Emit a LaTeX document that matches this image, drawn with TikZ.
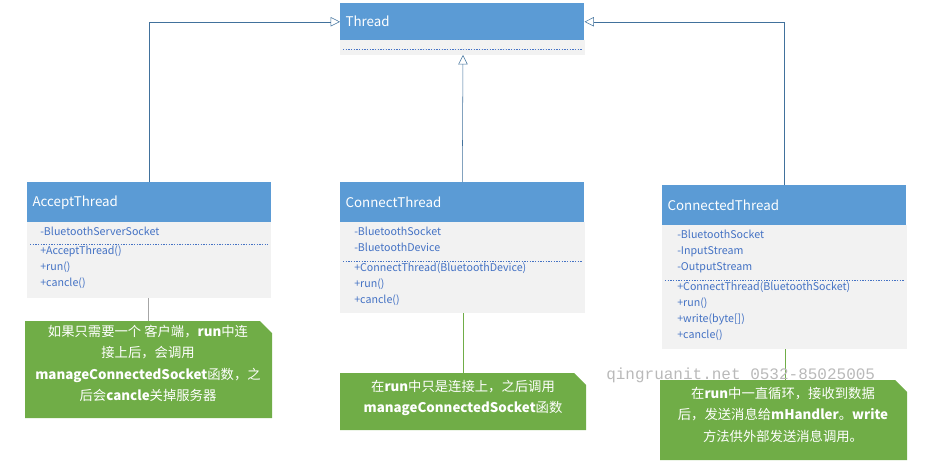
\documentclass[tikz,border=0pt]{standalone}
\usepackage{fontspec}
\setmainfont{Noto Sans CJK SC}
\setmonofont{Liberation Mono}
\usetikzlibrary{calc,arrows.meta}
\definecolor{headblue}{RGB}{ 91, 155, 213 }
\definecolor{bodygray}{RGB}{ 242, 242, 242 }
\definecolor{membertext}{RGB}{ 68, 114, 196 }
\definecolor{notegreen}{RGB}{ 112, 173, 71 }
\definecolor{linkblue}{RGB}{ 65, 113, 156 }

\begin{document}
\begin{tikzpicture}[x=0.75pt,y=-0.75pt,font=\fontsize{8}{10}\selectfont]
\tikzstyle{head}=[fill=headblue,text=white,anchor=north west,inner sep=0,minimum height=30pt,text width=183pt,align=left,font=\fontsize{10}{12}\selectfont]
\tikzstyle{member}=[anchor=north west,text=membertext,inner sep=0,align=left,font=\fontsize{8}{12}\selectfont]
\tikzstyle{note}=[text=white,anchor=north,inner sep=0,align=center,font=\fontsize{10}{16}\selectfont]
\tikzstyle{inherit}=[draw=linkblue,-{Triangle[open,length=7pt,width=7pt]},fill=white]
\tikzstyle{sep}=[membertext,dash pattern=on 1pt off 1pt,very thin]

\useasboundingbox (0,0) rectangle (927,471);

% Thread
\node(thread)[head,minimum height=27.75pt] at (340,3) {\hspace{4pt}Thread};
\fill[bodygray] (340,40) rectangle (585,55);
\draw[sep] (343,49) -- (582,49);

% AcceptThread
\node(accept)[head] at (27,182) {\hspace{4pt}AcceptThread};
\fill[bodygray] (27,222) rectangle (271,298);
\coordinate (acceptbot) at (148,298);
\node[member] at (40,227) {-BluetoothServerSocket};
\draw[sep] (30,244) -- (268,244);
\node[member] at (40,246) {+AcceptThread()\\+run()\\+cancle()};

% ConnectThread
\node(connect)[head] at (340,182) {\hspace{4pt}ConnectThread};
\fill[bodygray] (340,222) rectangle (585,313);
\coordinate (connectbot) at (463,313);
\node[member] at (354,227) {-BluetoothSocket\\-BluetoothDevice};
\draw[sep] (343,261) -- (582,261);
\node[member] at (354,263) {+ConnectThread(BluetoothDevice)\\+run()\\+cancle()};

% ConnectedThread
\node(connected)[head] at (662,185) {\hspace{4pt}ConnectedThread};
\fill[bodygray] (662,225) rectangle (907,349);
\coordinate (connectedbot) at (785,349);
\node[member] at (677,230) {-BluetoothSocket\\-InputStream\\-OutputStream};
\draw[sep] (665,280) -- (904,280);
\node[member] at (677,282) {+ConnectThread(BluetoothSocket)\\+run()\\+write(byte[])\\+cancle()};

% inheritance
\draw[inherit] (accept.north) |- (thread.west);
\draw[inherit] (connect.north) -- (463,55);
\draw[inherit] (connected.north) |- (thread.east);

% notes
\fill[notegreen] (25,321) -- (260,321) -- (272,333) -- (272,418) -- (25,418) -- cycle;
\node(noteaccept)[note] at (148,325) {如果只需要一个 客户端，\textbf{run}中连\\接上后，会调用\\\textbf{manageConnectedSocket}函数，之\\后会\textbf{cancle}关掉服务器};
\fill[notegreen] (340,373) -- (574,373) -- (586,385) -- (586,430) -- (340,430) -- cycle;
\node(noteconnect)[note] at (463,380) {在\textbf{run}中只是连接上，之后调用\\\textbf{manageConnectedSocket}函数};
\fill[notegreen] (660,380) -- (895,380) -- (907,392) -- (907,460) -- (660,460) -- cycle;
\node(noteconnected)[note] at (783,387) {在\textbf{run}中一直循环，接收到数据\\后，发送消息给\textbf{mHandler}。\textbf{write}\\方法供外部发送消息调用。};
\draw[gray!70,very thin] (acceptbot) -- (148,321);
\draw[notegreen] (connectbot) -- (463,373);
\draw[notegreen] (connectedbot) -- (785,380);

% watermark
\node[anchor=west,text=gray!55,font=\ttfamily\fontsize{12}{12}\selectfont,inner sep=0] at (606,375) {qingruanit.net 0532-85025005};
\end{tikzpicture}
\end{document}
